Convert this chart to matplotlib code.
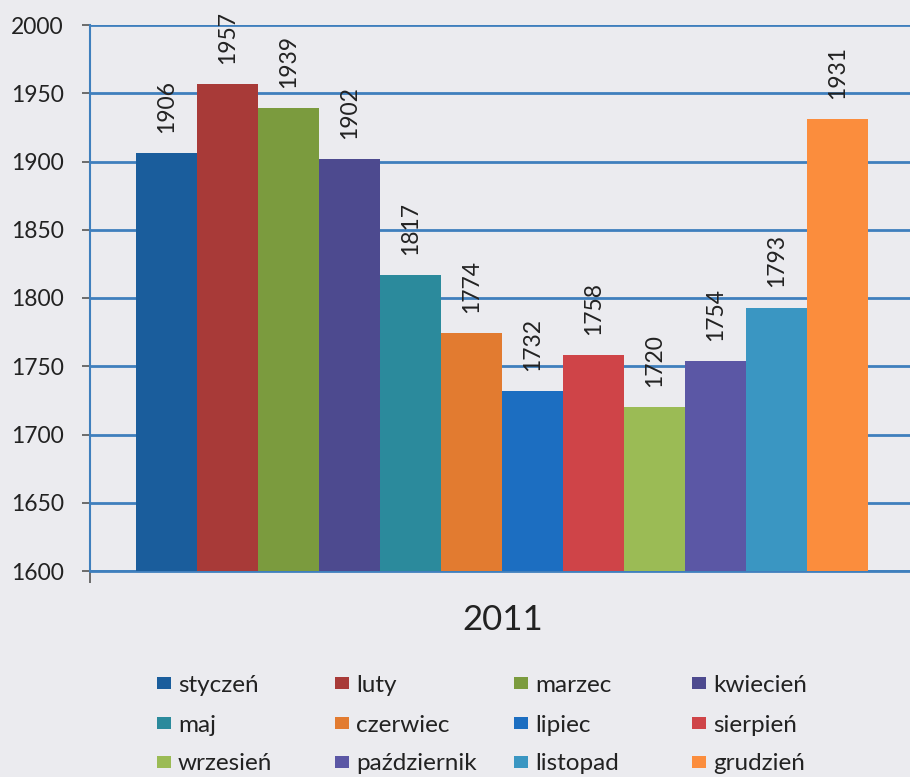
import matplotlib
matplotlib.use("Agg")
import matplotlib.pyplot as plt
from matplotlib.patches import Rectangle

plt.rcParams['font.family'] = ['Lato', 'DejaVu Sans']

months = ["styczeń", "luty", "marzec", "kwiecień", "maj", "czerwiec",
          "lipiec", "sierpień", "wrzesień", "październik", "listopad", "grudzień"]
values = [1906, 1957, 1939, 1902, 1817, 1774, 1732, 1758, 1720, 1754, 1793, 1931]
colors = ["#1a5d9c", "#a83a38", "#7b9b3e", "#4d4a8f", "#2b8a9c", "#e27b30",
          "#1c6ec1", "#cf4448", "#9bbb55", "#5b57a5", "#3a96c2", "#fb8d3d"]
category = "2011"
yticks = [1600, 1650, 1700, 1750, 1800, 1850, 1900, 1950, 2000]

bg = "#ebebef"
grid_c = "#3f7fbd"
txt_c = "#222222"

W, H = 910, 777
fig = plt.figure(figsize=(W / 100, H / 100), dpi=100, facecolor=bg)
ax = fig.add_axes([90 / W, 206 / H, 820 / W, 546 / H], facecolor=bg)

n = len(values)
xs = [i - (n - 1) / 2 for i in range(n)]
ax.bar(xs, [v - 1600 for v in values], bottom=1600, width=1.0,
       color=colors, zorder=3, linewidth=0)

for x, v in zip(xs, values):
    ax.annotate(str(v), xy=(x, v), xytext=(0, 14.5), textcoords="offset points",
                rotation=90, ha="center", va="bottom", fontsize=16.5,
                color=txt_c, annotation_clip=False, zorder=4)

ax.set_ylim(1600, 2000)
ax.set_xlim(-6 - 46 / 61, 6 + 42 / 61)
ax.set_yticks(yticks)
ax.set_yticklabels([str(t) for t in yticks], fontsize=16.5, color=txt_c)
ax.yaxis.grid(True, color=grid_c, linewidth=2.0, zorder=1)
ax.set_axisbelow(True)
ax.tick_params(axis="y", length=6, width=1.2, color="#555555", pad=13)
ax.set_xticks([ax.get_xlim()[0]])
ax.set_xticklabels([""])
ax.tick_params(axis="x", length=8.5, width=1.2, color="#555555")

for s in ["top", "right"]:
    ax.spines[s].set_visible(False)
ax.spines["left"].set_color(grid_c)
ax.spines["left"].set_linewidth(1.5)
ax.spines["bottom"].set_color(grid_c)
ax.spines["bottom"].set_linewidth(2.0)

fig.text(503 / W, 1 - 620 / H, category, ha="center", va="center",
         fontsize=25, color=txt_c)

# legend: 3 rows x 4 columns, evenly pitched like the original
ncol = 4
col_x = [157, 335, 514, 692]
row_y = [683, 723, 762]
for i, (m, c) in enumerate(zip(months, colors)):
    r, k = divmod(i, ncol)
    x0 = col_x[k]
    yc = row_y[r]
    fig.patches.append(Rectangle((x0 / W, (H - yc - 6) / H), 14 / W, 12 / H,
                                 transform=fig.transFigure, facecolor=c,
                                 edgecolor="none"))
    fig.text((x0 + 21) / W, 1 - yc / H, m, ha="left", va="center_baseline",
             fontsize=17.5, color=txt_c)

fig.savefig("out.png", dpi=100, facecolor=bg)
